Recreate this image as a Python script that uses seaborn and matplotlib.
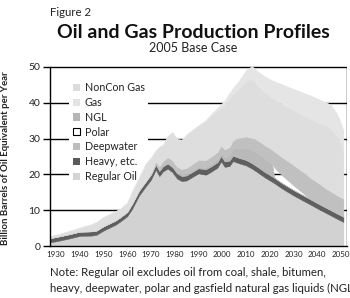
import matplotlib
matplotlib.use("Agg")
import matplotlib.pyplot as plt
import seaborn as sns
import numpy as np
from matplotlib.patches import Patch

# ---- data (Billion barrels of oil equivalent per year) ----
years = [1927.5, 1930, 1935, 1940, 1945, 1947, 1950, 1955, 1957, 1960,
         1962, 1965, 1968, 1970, 1972, 1973.5, 1975, 1977, 1979, 1981,
         1983, 1985, 1988, 1990, 1993, 1995, 1998, 1999.5, 2001, 2003,
         2004.5, 2007, 2010, 2012.5, 2015, 2018, 2020, 2021, 2022, 2025,
         2030, 2035, 2037, 2040, 2044, 2046, 2048, 2049.5, 2051]

regular_oil = [1.0, 1.3, 2.0, 2.8, 2.9, 3.1, 4.3, 5.9, 6.8, 8.3,
               10.3, 14.1, 16.8, 18.5, 21.3, 19.5, 20.8, 21.6, 20.6, 18.8,
               18.1, 18.3, 19.5, 20.3, 19.9, 20.6, 21.9, 23.6, 22.1, 22.3,
               23.7, 23.1, 22.5, 21.6, 20.5, 19.1, 18.3, 17.9, 17.5, 16.1,
               14.1, 12.3, 11.6, 10.5, 9.1, 8.4, 7.7, 7.2, 6.7]

heavy = [1.2, 1.2, 1.2, 1.2, 1.2, 1.2, 1.2, 1.2, 1.2, 1.2,
         1.4, 1.4, 1.4, 1.4, 1.4, 1.4, 1.4, 1.4, 1.4, 1.4,
         1.4, 1.4, 1.4, 1.4, 1.5, 1.5, 1.5, 1.5, 1.5, 1.5,
         1.5, 1.5, 1.5, 1.5, 1.5, 1.5, 1.5, 1.5, 1.5, 1.5,
         1.5, 1.5, 1.5, 1.5, 1.5, 1.5, 1.5, 1.5, 1.5]

deepwater = [0, 0, 0, 0, 0, 0, 0, 0, 0, 0,
             0, 0, 0, 0, 0.1, 0.2, 0.2, 0.3, 0.3, 0.3,
             0.4, 0.4, 0.5, 0.5, 0.6, 0.7, 0.9, 1.0, 1.3, 1.6,
             2.0, 2.8, 3.4, 3.8, 4.0, 3.8, 3.6, 3.5, 0, 0,
             0, 0, 0, 0, 0, 0, 0, 0, 0]

polar = [0, 0, 0, 0, 0, 0, 0, 0, 0, 0,
         0, 0, 0, 0, 0, 0, 0, 0, 0, 0,
         0, 0, 0, 0, 0, 0, 0, 0, 0, 0,
         0, 0, 0, 0, 0, 0, 0, 0, 2.8, 2.2,
         1.3, 0.4, 0, 0, 0, 0, 0, 0, 0]

ngl = [0, 0, 0, 0, 0, 0, 0, 0, 0, 0,
       0, 0, 0, 0.4, 0.8, 1.1, 1.3, 1.5, 1.6, 1.6,
       1.6, 1.7, 1.8, 1.9, 2.0, 2.0, 2.0, 2.0, 2.1, 2.2,
       2.3, 2.8, 3.2, 3.3, 3.5, 3.7, 3.9, 4.0, 4.5, 5.1,
       5.7, 6.0, 6.0, 5.8, 5.3, 5.2, 5.1, 5.0, 5.0]

gas = [0.5, 0.6, 0.9, 1.1, 2.0, 2.4, 2.6, 2.6, 2.4, 2.6,
       3.5, 3.7, 5.0, 4.4, 3.1, 5.5, 4.5, 5.9, 7.9, 7.7,
       8.2, 9.4, 9.5, 9.6, 10.9, 11.4, 11.6, 10.6, 12.5, 13.7,
       12.9, 13.7, 15.6, 16.6, 15.2, 14.8, 14.5, 14.4, 14.6, 14.8,
       15.3, 16.0, 16.5, 16.8, 17.6, 17.6, 16.6, 15.5, 13.5]

noncon_gas = [0, 0, 0, 0, 0, 0, 0, 0, 0, 0,
              0, 0, 0, 0, 0, 0, 0, 0, 0, 0,
              0, 0, 0, 0, 0.3, 0.5, 0.8, 1.0, 1.2, 1.5,
              1.8, 2.3, 3.0, 3.5, 4.0, 4.5, 4.8, 5.0, 5.1, 5.5,
              6.0, 6.4, 6.5, 6.6, 6.6, 6.5, 6.3, 6.0, 5.5]

layer_names = ["Regular Oil", "Heavy, etc.", "Deepwater", "Polar", "NGL", "Gas", "NonCon Gas"]
layer_values = [regular_oil, heavy, deepwater, polar, ngl, gas, noncon_gas]
fill_colors = ["#d2d2d2", "#5f5f5f", "#b9b9b9", "none", "#c0c0c0", "#dedede", "#e5e5e5"]
legend_colors = ["#d4d4d4", "#5a5a5a", "#bdbdbd", "white", "#b6b6b6", "#e4e4e4", "#dcdcdc"]

y_ticks = [0, 10, 20, 30, 40, 50]
x_ticks = [1930, 1940, 1950, 1960, 1970, 1980, 1990, 2000, 2010, 2020, 2030, 2040, 2050]

# ---- style ----
sns.set_theme(style="white")
plt.rcParams['font.family'] = ['Lato', 'DejaVu Sans']
txt_color = "#222222"

W, H = 350, 298
fig = plt.figure(figsize=(W / 100, H / 100), dpi=100)
px_per_unit = (246 - 67) / 50.0
top_px = 246 - 51 * px_per_unit
ax = fig.add_axes([50 / W, 1 - 246 / H, 297 / W, (246 - top_px) / H])
ax.set_facecolor("white")

# gridlines behind fills
for v in y_ticks[1:]:
    ax.axhline(v, color="black", lw=1.0, zorder=0.3)
ax.vlines(2052.3, 0, 50, color="black", lw=1.0, zorder=0.3)

# stacked layers
x = np.array(years, dtype=float)
base = np.zeros(len(years))
for vals, col in zip(layer_values, fill_colors):
    top = base + np.array(vals, dtype=float)
    if col != "none":
        ax.fill_between(x, base, top, facecolor=col, edgecolor=col, lw=0.3, zorder=1)
    base = top

ax.set_xlim(1927.5, 2052.5)
ax.set_ylim(0, 51)
ax.set_yticks(y_ticks)
ax.set_xticks(x_ticks)
ax.tick_params(axis="y", direction="out", length=5, width=1.0, color="black",
               labelsize=7.5, pad=2, labelcolor=txt_color, left=True)
ax.tick_params(axis="x", length=0, labelsize=5.8, pad=3.5, labelcolor=txt_color, bottom=False)

for s in ["top", "right"]:
    ax.spines[s].set_visible(False)
ax.spines["left"].set_bounds(0, 50)
for s in ["left", "bottom"]:
    ax.spines[s].set_color("black")
    ax.spines[s].set_linewidth(1.0)
    ax.spines[s].set_zorder(3)

ax.set_ylabel("Billion Barrels of Oil Equivalent per Year", fontsize=6.9,
              fontweight="bold", color=txt_color)
ax.yaxis.set_label_coords(-40 / 297, 0.48)

# legend (top entry first)
handles = []
for name, col in zip(layer_names[::-1], legend_colors[::-1]):
    if name == "Polar":
        handles.append(Patch(facecolor="white", edgecolor="black", lw=0.8, label=name))
    else:
        handles.append(Patch(facecolor=col, edgecolor="none", label=name))
leg = ax.legend(handles=handles, loc="upper left", bbox_to_anchor=(14 / 297, 0.945),
                fontsize=7.7, frameon=True, facecolor="white", edgecolor="none",
                framealpha=1, handlelength=0.65, handleheight=0.65,
                handletextpad=0.5, labelspacing=0.36, borderpad=0.3,
                fancybox=False)
for t in leg.get_texts():
    t.set_color(txt_color)
leg.set_zorder(0.5)

# titles and note
fig.text(50 / W, 1 - 13 / H, "Figure 2", fontsize=8.2, color=txt_color, va="center", ha="left")
fig.text(193 / W, 1 - 33 / H, "Oil and Gas Production Profiles", fontsize=14,
         fontweight="bold", color="#111111", va="center", ha="center")
fig.text(193 / W, 1 - 48 / H, "2005 Base Case", fontsize=9, color=txt_color,
         va="center", ha="center")
fig.text(50 / W, 1 - 273 / H, "Note: Regular oil excludes oil from coal, shale, bitumen,",
         fontsize=8.2, color=txt_color, va="center", ha="left")
fig.text(50 / W, 1 - 288 / H, "heavy, deepwater, polar and gasfield natural gas liquids (NGL",
         fontsize=8.2, color=txt_color, va="center", ha="left")

fig.savefig("out.png", dpi=100)
